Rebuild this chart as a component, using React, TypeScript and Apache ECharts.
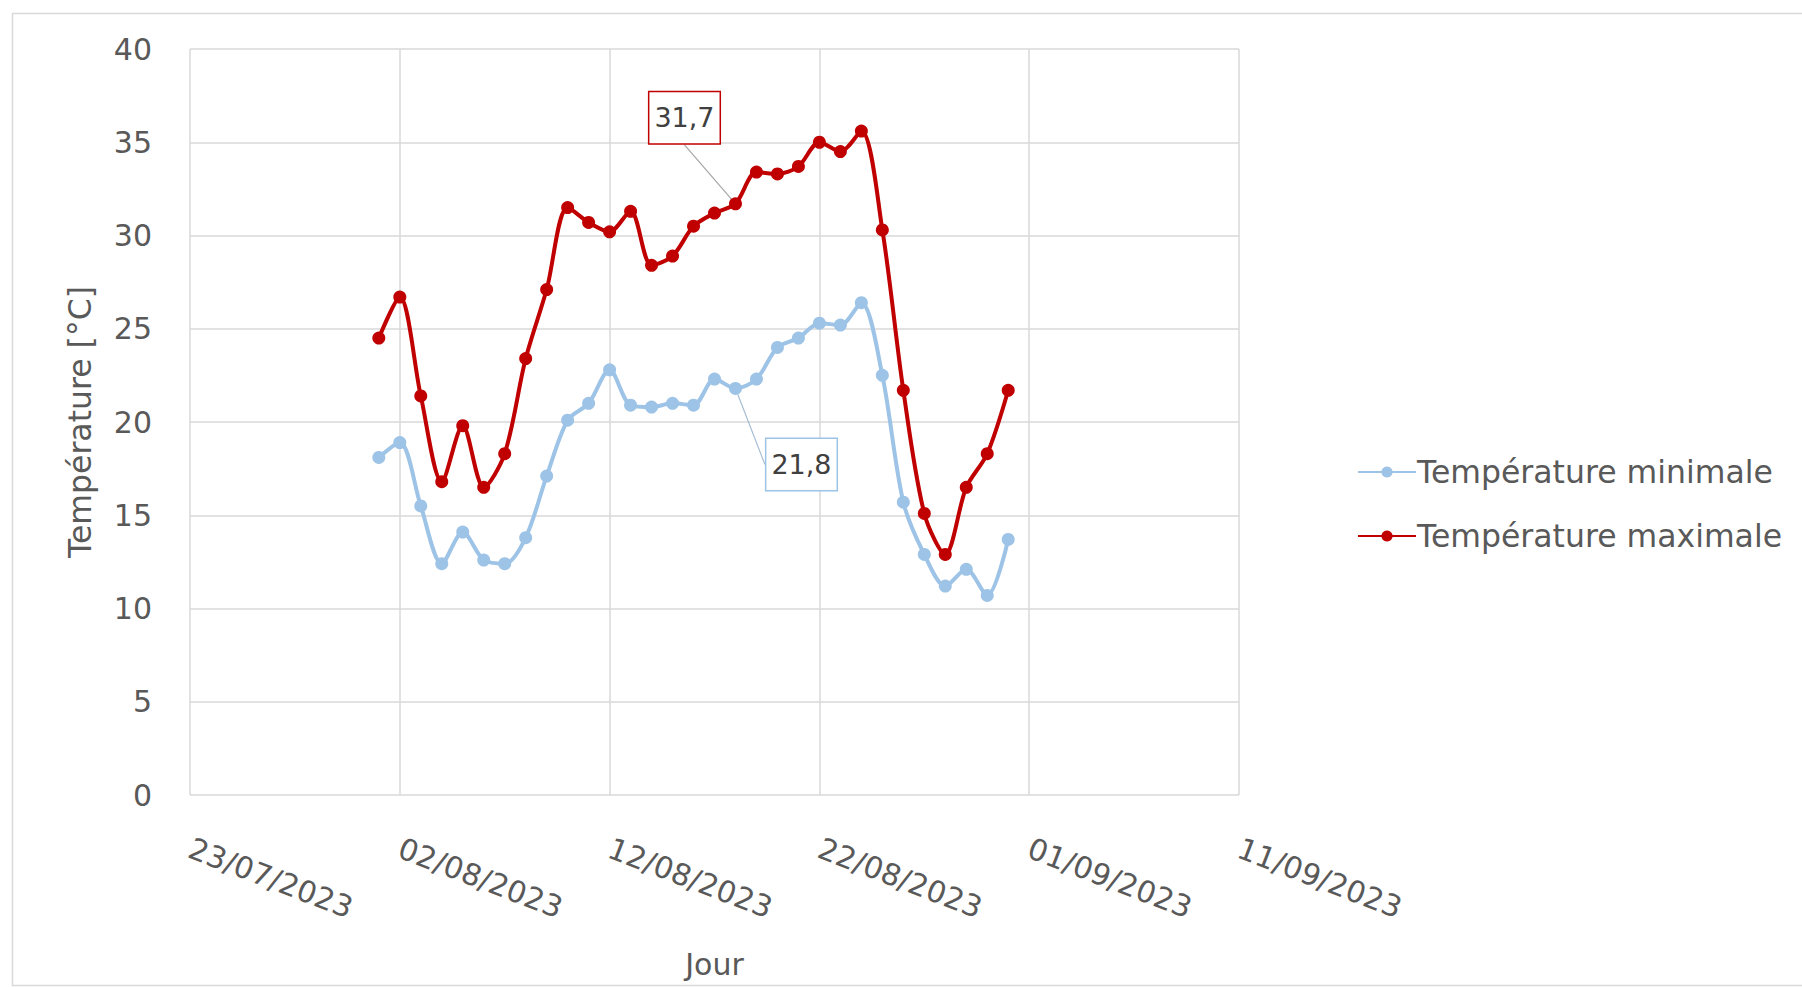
import React, { useEffect, useRef } from "react";
import * as echarts from "echarts";

// Days (one reading per day)
const dates: string[] = [
  "2023-08-01", "2023-08-02", "2023-08-03", "2023-08-04", "2023-08-05", "2023-08-06", "2023-08-07",
  "2023-08-08", "2023-08-09", "2023-08-10", "2023-08-11", "2023-08-12", "2023-08-13", "2023-08-14",
  "2023-08-15", "2023-08-16", "2023-08-17", "2023-08-18", "2023-08-19", "2023-08-20", "2023-08-21",
  "2023-08-22", "2023-08-23", "2023-08-24", "2023-08-25", "2023-08-26", "2023-08-27", "2023-08-28",
  "2023-08-29", "2023-08-30", "2023-08-31",
];

const tempMin: number[] = [
  18.1, 18.9, 15.5, 12.4, 14.1, 12.6, 12.4, 13.8, 17.1, 20.1, 21.0, 22.8, 20.9, 20.8, 21.0, 20.9,
  22.3, 21.8, 22.3, 24.0, 24.5, 25.3, 25.2, 26.4, 22.5, 15.7, 12.9, 11.2, 12.1, 10.7, 13.7,
];

const tempMax: number[] = [
  24.5, 26.7, 21.4, 16.8, 19.8, 16.5, 18.3, 23.4, 27.1, 31.5, 30.7, 30.2, 31.3, 28.4, 28.9, 30.5,
  31.2, 31.7, 33.4, 33.3, 33.7, 35.0, 34.5, 35.6, 30.3, 21.7, 15.1, 12.9, 16.5, 18.3, 21.7,
];

const seriesNames = ["Température minimale", "Température maximale"];
const labelledDate = "2023-08-18";
const xAxisStart = "2023-07-23";
const xAxisEnd = "2023-09-11";
const xStepDays = 10;
const yMin = 0;
const yMax = 40;
const yStep = 5;

// Excel-style serial day numbers
const serial = (s: string) => {
  const [y, m, d] = s.split("-").map(Number);
  return Date.UTC(y, m - 1, d) / 86400000 + 25569;
};
const fmtDate = (v: number) => {
  const d = new Date((v - 25569) * 86400000);
  const dd = String(d.getUTCDate()).padStart(2, "0");
  const mm = String(d.getUTCMonth() + 1).padStart(2, "0");
  return `${dd}/${mm}/${d.getUTCFullYear()}`;
};
const fr = (v: number) => v.toFixed(1).replace(".", ",");

const FONT = "DejaVu Sans";
const TXT = "#595959";
const GRID = "#D9D9D9";
const RED = "#C00000";
const BLUE = "#9DC3E6";

export default function App() {
  const ref = useRef<HTMLDivElement>(null);

  useEffect(() => {
    if (!ref.current) return;
    const chart = echarts.init(ref.current, undefined, { renderer: "svg" });
    const labelIdx = dates.indexOf(labelledDate);

    const buildData = (vals: number[], color: string) =>
      vals.map((v, i) => {
        const item: any = { value: [serial(dates[i]), v] };
        if (i === labelIdx) {
          item.label = {
            show: true,
            position: "inside",
            formatter: (p: any) => fr(p.value[1]),
            fontFamily: FONT,
            fontSize: 27,
            color: "#404040",
            backgroundColor: "#ffffff",
            borderColor: color,
            borderWidth: 1.5,
            padding: [13, 5, 11, 5],
          };
        }
        return item;
      });

    chart.setOption({
      animation: false,
      backgroundColor: "#ffffff",
      textStyle: { fontFamily: FONT, color: TXT },
      graphic: [
        {
          type: "rect",
          left: 10,
          top: 11,
          shape: { width: 1810, height: 972 },
          style: { fill: "none", stroke: GRID, lineWidth: 1.5 },
          silent: true,
          z: -10,
        },
      ],
      grid: { left: 190, right: 563, top: 49, bottom: 192 },
      legend: {
        orient: "vertical",
        left: 1352,
        top: 451,
        itemWidth: 58,
        itemHeight: 14,
        itemGap: 32,
        textStyle: { fontFamily: FONT, fontSize: 31.5, color: TXT, padding: [0, 0, 0, -4] },
        data: seriesNames,
      },
      xAxis: {
        type: "value",
        min: serial(xAxisStart),
        max: serial(xAxisEnd),
        interval: xStepDays,
        name: "Jour",
        nameLocation: "middle",
        nameGap: 154,
        nameTextStyle: { fontFamily: FONT, fontSize: 30, color: TXT },
        axisLine: { show: false },
        axisTick: { show: false },
        splitLine: { show: true, lineStyle: { color: GRID, width: 1.5 } },
        axisLabel: {
          rotate: -21,
          margin: 52,
          fontFamily: FONT,
          fontSize: 30,
          color: TXT,
          formatter: (v: number) => fmtDate(v),
        },
      },
      yAxis: {
        type: "value",
        min: yMin,
        max: yMax,
        interval: yStep,
        name: "Température [°C]",
        nameLocation: "middle",
        nameGap: 94,
        nameTextStyle: { fontFamily: FONT, fontSize: 31.5, color: TXT },
        axisLine: { show: false },
        axisTick: { show: false },
        splitLine: { show: true, lineStyle: { color: GRID, width: 1.5 } },
        axisLabel: { margin: 38, fontFamily: FONT, fontSize: 30, color: TXT },
      },
      series: [
        {
          name: seriesNames[0],
          type: "line",
          smooth: 0.3,
          symbol: "circle",
          symbolSize: 13,
          itemStyle: { color: BLUE },
          lineStyle: { color: BLUE, width: 4 },
          data: buildData(tempMin, BLUE),
          labelLayout: (p: any) => (p.dataIndex === labelIdx ? { dx: 66, dy: 76 } : {}),
          labelLine: { show: true, lineStyle: { color: "#A6BDD4", width: 1.2 } },
          z: 2,
        },
        {
          name: seriesNames[1],
          type: "line",
          smooth: 0.3,
          symbol: "circle",
          symbolSize: 13,
          itemStyle: { color: RED },
          lineStyle: { color: RED, width: 4 },
          data: buildData(tempMax, RED),
          labelLayout: (p: any) => (p.dataIndex === labelIdx ? { dx: -51, dy: -86 } : {}),
          labelLine: { show: true, lineStyle: { color: "#A6A6A6", width: 1.2 } },
          z: 3,
        },
      ],
    });

    return () => chart.dispose();
  }, []);

  return (
    <div
      ref={ref}
      style={{ position: "fixed", left: 0, top: 0, width: 1802, height: 987 }}
    />
  );
}
